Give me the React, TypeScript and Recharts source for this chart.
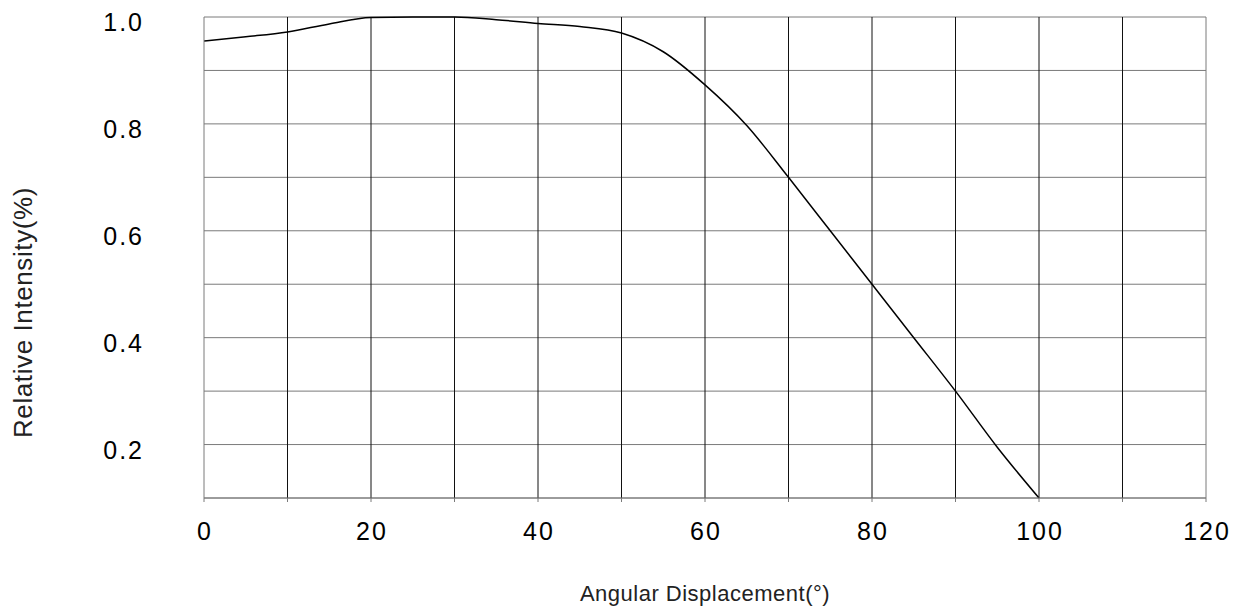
import {
  LineChart,
  Line,
  XAxis,
  YAxis,
  CartesianGrid,
  ReferenceLine,
} from "recharts";

const angles = [0, 5, 10, 15, 20, 25, 30, 35, 40, 45, 50, 55, 60, 65, 70, 75, 80, 85, 90, 95, 100];
const intensity = [
  0.955, 0.963, 0.972, 0.987, 0.999, 1.0, 1.0, 0.995, 0.988, 0.982, 0.97, 0.935, 0.873, 0.797, 0.7,
  0.6, 0.5, 0.4, 0.3, 0.195, 0.1,
];

const xTicks = [0, 10, 20, 30, 40, 50, 60, 70, 80, 90, 100, 110, 120];
const yTicks = [0.1, 0.2, 0.3, 0.4, 0.5, 0.6, 0.7, 0.8, 0.9, 1.0];
const innerGridX = [10, 20, 30, 40, 50, 60, 70, 80, 90, 100, 110];

const data = angles.map((a, i) => ({ angle: a, value: intensity[i] }));

const FONT = '"Liberation Sans", Arial, sans-serif';

function XTick(props: any) {
  const { x, y, payload } = props;
  if (payload.value % 20 !== 0) return <g />;
  return (
    <text x={x + 1} y={y + 38} textAnchor="middle" fontSize={25} fontFamily={FONT} letterSpacing={2} fill="#000">
      {payload.value}
    </text>
  );
}

function YTick(props: any) {
  const { x, y, payload } = props;
  const v = Math.round(payload.value * 10);
  if (v % 2 !== 0) return <g />;
  return (
    <text x={x - 60} y={y + 14} textAnchor="end" fontSize={25} fontFamily={FONT} letterSpacing={2} fill="#000">
      {(v / 10).toFixed(1)}
    </text>
  );
}

function YTitle(props: any) {
  const { x, y, height } = props.viewBox;
  const cx = x + 32;
  const cy = y + height / 2 + 55;
  return (
    <text
      x={cx}
      y={cy}
      transform={`rotate(-90, ${cx}, ${cy})`}
      textAnchor="middle"
      fontSize={26}
      fontFamily={FONT}
      letterSpacing={0.6}
      fill="#222"
    >
      Relative Intensity(%)
    </text>
  );
}

export default function App() {
  return (
    <div style={{ position: "absolute", left: 0, top: 0, background: "#fff" }}>
      <LineChart width={1244} height={610} data={data} margin={{ top: 17, right: 38, left: 0, bottom: 0 }}>
        <CartesianGrid vertical={false} stroke="#7a7a7a" />
        <XAxis
          dataKey="angle"
          type="number"
          domain={[0, 120]}
          ticks={xTicks}
          height={112}
          tickSize={4}
          tickMargin={0}
          stroke="#7a7a7a"
          tick={<XTick />}
          label={{
            value: "Angular Displacement(°)",
            position: "insideBottom",
            offset: 9,
            fontSize: 22,
            fontFamily: FONT,
            letterSpacing: 0.5,
            fill: "#222",
          }}
        />
        <YAxis
          type="number"
          domain={[0.1, 1.0]}
          ticks={yTicks}
          width={204}
          tickSize={0}
          tickMargin={0}
          tickLine={false}
          stroke="#7a7a7a"
          tick={<YTick />}
          label={{ content: <YTitle /> }}
        />
        {innerGridX.map((gx) => (
          <ReferenceLine key={gx} x={gx} stroke="#111" strokeWidth={1} />
        ))}
        <ReferenceLine x={120} stroke="#7a7a7a" strokeWidth={1} />
        <Line
          type="monotone"
          dataKey="value"
          stroke="#000"
          strokeWidth={1.5}
          dot={false}
          isAnimationActive={false}
        />
      </LineChart>
    </div>
  );
}
